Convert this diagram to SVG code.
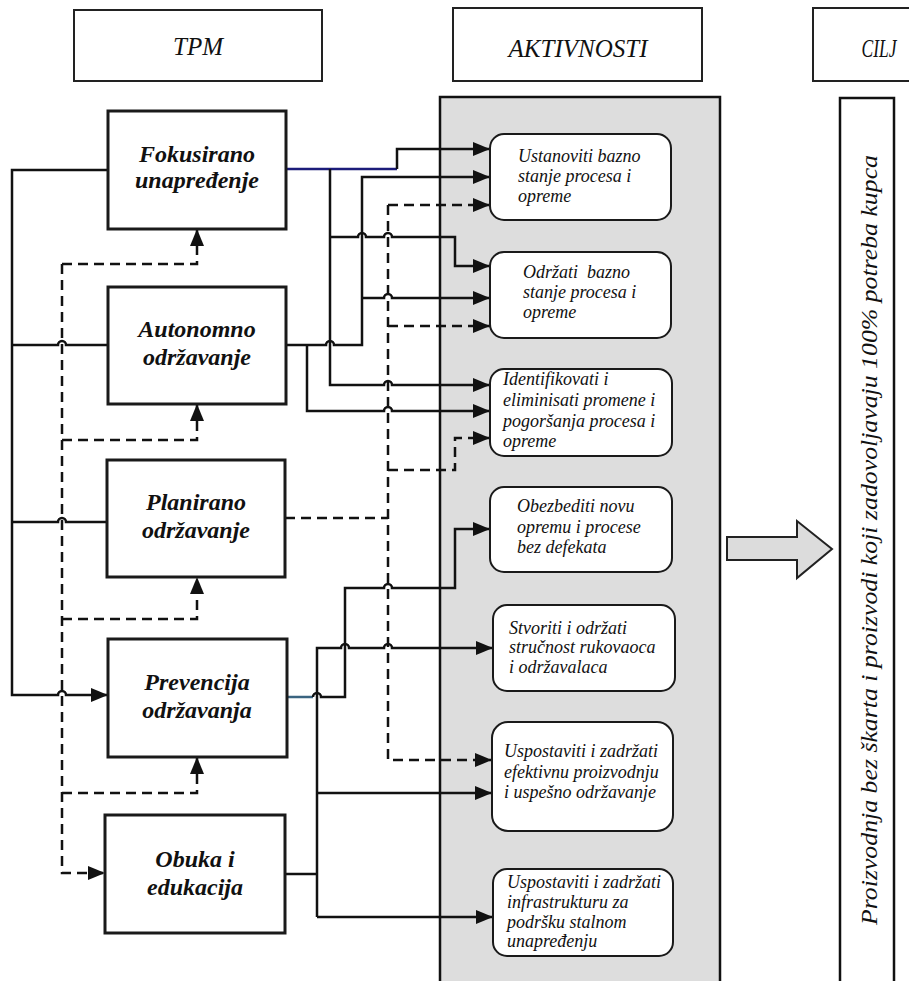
<svg xmlns="http://www.w3.org/2000/svg" width="909" height="981" viewBox="0 0 909 981">
<style>
.hdr{fill:#fff;stroke:#222;stroke-width:2}
.box{fill:#fff;stroke:#1a1a1a;stroke-width:3}
.act{fill:#fff;stroke:#1a1a1a;stroke-width:2}
.ln{fill:none;stroke:#111;stroke-width:2.5}
.dash{fill:none;stroke:#111;stroke-width:2.5;stroke-dasharray:10 6}
text{font-family:'Times New Roman','Liberation Serif','DejaVu Serif','Noto Serif',serif;font-style:italic;fill:#111}
.ht{font-size:25px;text-anchor:middle}
.bt{font-weight:bold;font-size:24px;text-anchor:middle}
.at{font-size:18px}
.gt{font-size:24px;text-anchor:middle}
</style>
<defs>
<marker id="ah" markerUnits="userSpaceOnUse" markerWidth="17" markerHeight="14" refX="17" refY="7" orient="auto">
<path d="M0,0 L17,7 L0,14 z" fill="#111"/>
</marker>
</defs>
<rect width="909" height="981" fill="#fff"/>

<g id="hdr-tpm"><rect class="hdr" x="74" y="10" width="248" height="71"/><text class="ht" x="198" y="55">TPM</text></g>
<g id="hdr-akt"><rect class="hdr" x="453" y="8" width="249" height="73"/><text class="ht" x="578" y="57">AKTIVNOSTI</text></g>
<g id="hdr-cilj"><rect class="hdr" x="813" y="8" width="98" height="73"/><text class="ht" transform="translate(879,57) scale(0.7,1)">CILJ</text></g>

<rect id="panel" x="440" y="97" width="280" height="900" fill="#dddddd" stroke="#111" stroke-width="2.5"/>

<g id="goal">
<rect x="840" y="98" width="54" height="900" fill="#fff" stroke="#111" stroke-width="2.5"/>
<text class="gt" transform="translate(877,540) rotate(-90)" textLength="770" lengthAdjust="spacingAndGlyphs">Proizvodnja bez škarta i proizvodi koji zadovoljavaju 100% potreba kupca</text>
</g>
<g id="big-arrow"><polygon points="727,537 797,537 797,521 832,549 797,578 797,560 727,560" fill="#dcdcdc" stroke="#222" stroke-width="2"/></g>

<g id="connectors">
<path class="ln" d="M108,170 H12 V695 H58 A4,4 0 0 1 66,695 H108" marker-end="url(#ah)"/>
<path class="ln" d="M12,345 H58 A4,4 0 0 1 66,345 H108"/>
<path class="ln" d="M12,522 H58 A4,4 0 0 1 66,522 H107"/>
<path class="dash" d="M62,264 V873 H105" marker-end="url(#ah)"/>
<path class="dash" d="M62,264 H197 V229" marker-end="url(#ah)"/>
<path class="dash" d="M62,440 H197 V404" marker-end="url(#ah)"/>
<path class="dash" d="M62,619 H197 V577" marker-end="url(#ah)"/>
<path class="dash" d="M62,793 H197 V757" marker-end="url(#ah)"/>
<path fill="none" stroke="#1c1c7a" stroke-width="2.5" d="M286,169 H397"/>
<path class="ln" d="M397,169 V149 H490" marker-end="url(#ah)"/>
<path class="ln" d="M330,169 V385 H384 A4,4 0 0 1 392,385 H490" marker-end="url(#ah)"/>
<path class="ln" d="M330,237 H358 A4,4 0 0 1 366,237 H384 A4,4 0 0 1 392,237 H455 V266 H490" marker-end="url(#ah)"/>
<path class="ln" d="M286,345 H326 A4,4 0 0 1 334,345 H362 V177 H490" marker-end="url(#ah)"/>
<path class="ln" d="M362,298 H384 A4,4 0 0 1 392,298 H490" marker-end="url(#ah)"/>
<path class="ln" d="M307,345 V411 H384 A4,4 0 0 1 392,411 H490" marker-end="url(#ah)"/>
<path class="dash" d="M285,518 H388"/>
<path class="dash" d="M388,205 V760 H492" marker-end="url(#ah)"/>
<path class="dash" d="M388,205 H490" marker-end="url(#ah)"/>
<path class="dash" d="M388,326 H490" marker-end="url(#ah)"/>
<path class="dash" d="M388,470 H455 V438 H490" marker-end="url(#ah)"/>
<path fill="none" stroke="#3a6480" stroke-width="2.5" d="M287,697 H313"/>
<path class="ln" d="M313,697 A4,4 0 0 1 321,697 H345 V588 H384 A4,4 0 0 1 392,588 H455 V529 H490" marker-end="url(#ah)"/>
<path class="ln" d="M285,874 H317"/>
<path class="ln" d="M317,917 V648 H341 A4,4 0 0 1 349,648 H384 A4,4 0 0 1 392,648 H493" marker-end="url(#ah)"/>
<path class="ln" d="M317,917 H493" marker-end="url(#ah)"/>
<path class="ln" d="M317,793 H492" marker-end="url(#ah)"/>
</g>

<g id="fokusirano"><rect class="box" x="108" y="111" width="178" height="118"/><text class="bt" x="197" y="162">Fokusirano</text><text class="bt" x="197" y="188">unapređenje</text></g>
<g id="autonomno"><rect class="box" x="108" y="287" width="178" height="117"/><text class="bt" x="197" y="337">Autonomno</text><text class="bt" x="197" y="365">održavanje</text></g>
<g id="planirano"><rect class="box" x="107" y="460" width="178" height="117"/><text class="bt" x="196" y="510">Planirano</text><text class="bt" x="196" y="538">održavanje</text></g>
<g id="prevencija"><rect class="box" x="108" y="639" width="179" height="118"/><text class="bt" x="197" y="690">Prevencija</text><text class="bt" x="197" y="718">održavanja</text></g>
<g id="obuka"><rect class="box" x="105" y="815" width="180" height="118"/><text class="bt" x="195" y="867">Obuka i</text><text class="bt" x="195" y="895">edukacija</text></g>

<g id="act1"><rect class="act" x="490" y="134" width="181" height="86" rx="14"/><text class="at" x="518" y="162">Ustanoviti bazno</text><text class="at" x="518" y="182">stanje procesa i</text><text class="at" x="518" y="202">opreme</text></g>
<g id="act2"><rect class="act" x="490" y="252" width="181" height="86" rx="14"/><text class="at" x="523" y="278" xml:space="preserve">Održati  bazno</text><text class="at" x="523" y="298">stanje procesa i</text><text class="at" x="523" y="318">opreme</text></g>
<g id="act3"><rect class="act" x="490" y="369" width="182" height="87" rx="14"/><text class="at" x="503" y="385">Identifikovati i</text><text class="at" x="503" y="406">eliminisati promene i</text><text class="at" x="503" y="427">pogoršanja procesa i</text><text class="at" x="503" y="447">opreme</text></g>
<g id="act4"><rect class="act" x="490" y="487" width="182" height="85" rx="14"/><text class="at" x="517" y="512">Obezbediti novu</text><text class="at" x="517" y="533">opremu i procese</text><text class="at" x="517" y="553">bez defekata</text></g>
<g id="act5"><rect class="act" x="493" y="605" width="182" height="86" rx="14"/><text class="at" x="509" y="634">Stvoriti i održati</text><text class="at" x="509" y="653">stručnost rukovaoca</text><text class="at" x="509" y="673">i održavalaca</text></g>
<g id="act6"><rect class="act" x="492" y="722" width="181" height="109" rx="16"/><text class="at" x="504" y="757">Uspostaviti i zadržati</text><text class="at" x="504" y="778">efektivnu proizvodnju</text><text class="at" x="504" y="798">i uspešno održavanje</text></g>
<g id="act7"><rect class="act" x="493" y="869" width="180" height="87" rx="14"/><text class="at" x="507" y="888">Uspostaviti i zadržati</text><text class="at" x="507" y="908">infrastrukturu za</text><text class="at" x="507" y="928">podršku stalnom</text><text class="at" x="507" y="947">unapređenju</text></g>
</svg>
